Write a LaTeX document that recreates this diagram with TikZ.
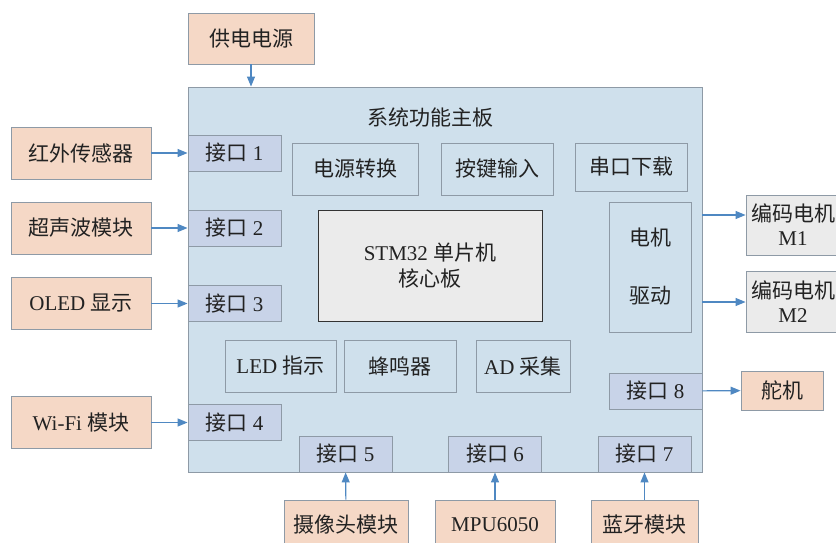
\documentclass[tikz,border=0pt]{standalone}
\usepackage{fontspec}
\setmainfont{Liberation Serif}
\newfontfamily\cjk{Noto Sans CJK SC}
\newcommand\zh[1]{{\cjk #1}}
\usetikzlibrary{arrows.meta}
\definecolor{boardfill}{HTML}{CFE0EC}
\definecolor{boardline}{HTML}{8E9AA6}
\definecolor{peach}{HTML}{F5D8C6}
\definecolor{ifill}{HTML}{C8D3E8}
\definecolor{grayfill}{HTML}{EBEBEB}
\definecolor{arrowblue}{HTML}{4F88C2}
\definecolor{txt}{HTML}{222222}
\tikzset{
  base/.style={draw=boardline, line width=0.9pt, inner sep=0pt, text=txt,
    font=\fontsize{21}{24}\selectfont},
  ext/.style={base, fill=peach},
  iface/.style={base, fill=ifill, minimum width=93pt, minimum height=36pt},
  inner/.style={base, fill=boardfill, minimum height=52pt},
  enc/.style={base, fill=grayfill, align=center, font=\fontsize{21}{24}\selectfont},
  arr/.style={draw=arrowblue, line width=1.1pt, -{Triangle[length=10pt,width=8pt]}},
  lbl/.style={text=txt, inner sep=0pt, font=\fontsize{21}{24}\selectfont}
}
\begin{document}
\begin{tikzpicture}[x=1pt,y=-1pt]
\useasboundingbox (0,0) rectangle (836,543);
\clip (0,0) rectangle (836,543);
\fill[white] (0,0) rectangle (836,543);
% main board
\node[base, fill=boardfill, minimum width=514pt, minimum height=385pt] (board) at (445,279.5) {};
\node[lbl] (title) at (430,117) {\zh{系统功能主板}};
% power
\node[ext, minimum width=126pt, minimum height=51pt] (pow) at (251,38.5) {\zh{供电电源}};
% left external modules
\node[ext, minimum width=140pt, minimum height=52pt] (ir) at (81,153) {\zh{红外传感器}};
\node[ext, minimum width=140pt, minimum height=52pt] (us) at (81,228) {\zh{超声波模块}};
\node[ext, minimum width=140pt, minimum height=52pt] (oled) at (81,303.5) {OLED \zh{显示}};
\node[ext, minimum width=140pt, minimum height=52pt] (wifi) at (81,422.5) {Wi-Fi \zh{模块}};
% interfaces
\node[iface] (if1) at (234.5,153) {\zh{接口} 1};
\node[iface] (if2) at (234.5,228) {\zh{接口} 2};
\node[iface] (if3) at (234.5,303.5) {\zh{接口} 3};
\node[iface] (if4) at (234.5,422.5) {\zh{接口} 4};
\node[iface] (if5) at (345.5,454) {\zh{接口} 5};
\node[iface] (if6) at (495,454) {\zh{接口} 6};
\node[iface] (if7) at (644.5,454) {\zh{接口} 7};
\node[iface] (if8) at (655.5,391) {\zh{接口} 8};
% inner blocks
\node[inner, minimum width=126pt] (pwr) at (355,169) {\zh{电源转换}};
\node[inner, minimum width=112pt] (key) at (497,169) {\zh{按键输入}};
\node[inner, minimum width=112pt, minimum height=48pt] (uart) at (631,167) {\zh{串口下载}};
\node[base, draw=black!80, fill=grayfill, minimum width=224pt, minimum height=111pt, align=center,
  font=\fontsize{21}{26}\selectfont] (stm) at (430,265.5) {STM32 \zh{单片机}\\\zh{核心板}};
\node[inner, minimum width=82pt, minimum height=130pt] (drv) at (650,267) {};
\node[lbl] (drv1) at (650,238) {\zh{电机}};
\node[lbl] (drv2) at (650,296) {\zh{驱动}};
\node[inner, minimum width=111pt] (led) at (280.5,366) {LED \zh{指示}};
\node[inner, minimum width=112pt] (buz) at (400,366) {\zh{蜂鸣器}};
\node[inner, minimum width=94pt] (ad) at (523,366) {AD \zh{采集}};
% bottom external modules
\node[ext, minimum width=124pt, minimum height=50pt] (cam) at (346,525) {\zh{摄像头模块}};
\node[ext, minimum width=120pt, minimum height=50pt] (mpu) at (495,525) {MPU6050};
\node[ext, minimum width=107pt, minimum height=50pt] (bt) at (644.5,525) {\zh{蓝牙模块}};
% right side
\node[enc, minimum width=94pt, minimum height=60pt] (m1) at (793,225) {\zh{编码电机}\\M1};
\node[enc, minimum width=94pt, minimum height=61pt] (m2) at (793,301.5) {\zh{编码电机}\\M2};
\node[ext, minimum width=82pt, minimum height=39pt] (servo) at (782,390.5) {\zh{舵机}};
% connectors
\draw[arr] (pow) -- (pow |- board.north);
\draw[arr] (ir) -- (if1);
\draw[arr] (us) -- (if2);
\draw[arr] (oled) -- (if3);
\draw[arr] (wifi) -- (if4);
\draw[arr] (cam) -- (if5);
\draw[arr] (mpu) -- (if6);
\draw[arr] (bt) -- (if7);
\draw[arr] (if8) -- (servo);
\coordinate (m1a) at (702,215);
\coordinate (m2a) at (702,302);
\draw[arr] (m1a) -- (m1a -| m1.west);
\draw[arr] (m2a) -- (m2a -| m2.west);
\end{tikzpicture}
\end{document}
